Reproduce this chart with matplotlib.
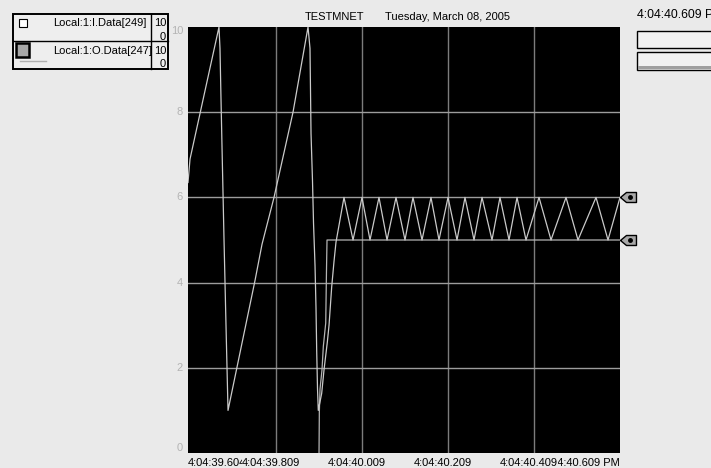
import matplotlib
matplotlib.use("Agg")
import matplotlib.pyplot as plt
import matplotlib.transforms as mtransforms
from matplotlib.patches import Rectangle

plt.rcParams['font.family'] = ['Liberation Sans', 'DejaVu Sans']

# ---------------- data (time in seconds after 4:04:39) ----------------
series_names = ["Local:1:I.Data[249]", "Local:1:O.Data[247]"]
series_ranges = [("10", "0"), ("10", "0")]

i_times = [0.604, 0.6087, 0.6761, 0.6784, 0.6808, 0.6831, 0.6878, 0.6924, 0.6971,
           0.7599, 0.7762, 0.8041, 0.8483, 0.8832, 0.8878, 0.8902, 0.8936, 0.8960,
           0.8995, 0.9018, 0.9034, 0.9053, 0.9071, 0.9150, 0.9204, 0.9281, 0.9321,
           0.9383, 0.9437, 0.9483, 0.9669,
           0.9879, 1.0088, 1.0274, 1.0483, 1.0670, 1.0879, 1.1088, 1.1274, 1.1484,
           1.1693, 1.1879, 1.2089, 1.2298, 1.2484, 1.2694, 1.2880, 1.3112, 1.3298,
           1.3508, 1.3694, 1.3903, 1.4206, 1.4485, 1.4834, 1.5113, 1.5532, 1.5811,
           1.609]
i_values = [6.35, 6.9, 10.0, 9.5, 8.3, 7.2, 5.0, 3.0, 1.0,
            4.05, 4.9, 6.0, 8.0, 10.0, 9.5, 7.5, 6.4, 5.4,
            4.4, 3.4, 2.4, 1.5, 1.0, 1.4, 1.95, 2.6, 3.0,
            3.9, 4.5, 4.95, 6.0,
            5, 6, 5, 6, 5, 6, 5, 6, 5,
            6, 5, 6, 5, 6, 5, 6, 5, 6,
            5, 6, 5, 6, 5, 6, 5, 6, 5,
            6]

o_times = [0.9088, 0.9095, 0.9111, 0.9157, 0.9188, 0.9244, 0.9262, 0.9274, 1.609]
o_values = [0.0, 0.94, 1.5, 1.95, 2.5, 3.05, 4.3, 5.0, 5.0]

x_start, x_end = 0.604, 1.609
grid_times = [0.809, 1.009, 1.209, 1.409]
x_tick_labels = ["4:04:39.604", "4:04:39.809", "4:04:40.009", "4:04:40.209",
                 "4:04:40.409", "4:04:40.609 PM"]
y_ticks = [0, 2, 4, 6, 8, 10]
y_tick_labels = ["0", "2", "4", "6", "8", "10"]

title_name = "TESTMNET"
title_date = "Tuesday, March 08, 2005"
cursor_time = "4:04:40.609 PM"

# ---------------- figure ----------------
W, H = 711, 468
BG = '#eaeaea'
fig = plt.figure(figsize=(W / 100, H / 100), dpi=100)
fig.patch.set_facecolor(BG)


def fx(x):
    return x / W


def fy(y):
    return 1 - y / H


ax = fig.add_axes([fx(188), fy(453), 432 / W, 426 / H])
ax.set_facecolor('black')
for s in ax.spines.values():
    s.set_visible(False)
ax.set_xlim(x_start, x_end)
ax.set_ylim(0, 10)
ax.set_xticks([])
ax.set_yticks([])

for t in grid_times:
    ax.axvline(t, color='#7c7c7c', lw=1.0, zorder=1)
for v in y_ticks[1:-1]:
    ax.axhline(v, color='#9c9c9c', lw=1.0, zorder=1)

ax.plot(i_times, i_values, color='#cacaca', lw=0.9, zorder=3)
ax.plot(o_times, o_values, color='#b4b4b4', lw=0.9, zorder=2)

# tags at right edge
tag = [(0, 0), (6, 5), (16, 5), (16, -5), (6, -5), (0, 0)]
dot_tr = mtransforms.offset_copy(ax.transData, fig=fig, x=10, y=0, units='dots')
for vals in (i_values, o_values):
    ax.plot([x_end], [vals[-1]], marker=tag, ms=23, mfc='#a8a8a8', mec='black',
            mew=1.0, clip_on=False, zorder=5, ls='none')
    ax.plot([x_end], [vals[-1]], marker='o', ms=2.5, color='black',
            transform=dot_tr, clip_on=False, zorder=6, ls='none')

# y tick labels
ytr = mtransforms.blended_transform_factory(ax.transAxes, ax.transData)
ylab_tr = mtransforms.offset_copy(ytr, fig=fig, x=-5, y=0, units='dots')
for v, lab in zip(y_ticks, y_tick_labels):
    va = 'center'
    dy = 0
    if v == 10:
        va, dy = 'top', 1
    elif v == 0:
        va, dy = 'bottom', 0
    ax.text(0, v, lab, transform=mtransforms.offset_copy(ylab_tr, fig=fig, x=0, y=dy, units='dots'),
            ha='right', va=va, fontsize=8, color='#b4b4b4')

# x tick labels (later ones drawn opaque over earlier ones)
xtr = mtransforms.blended_transform_factory(ax.transData, fig.transFigure)
tick_pos = [x_start] + grid_times + [x_end]
ybase = fy(466.5)
order_z = [10, 12, 13, 14, 15, 11]
for i, (t, lab) in enumerate(zip(tick_pos, x_tick_labels)):
    if i == 0:
        ha, off = 'left', 0
    elif i == len(tick_pos) - 1:
        ha, off = 'right', 0
    else:
        ha, off = 'center', -5
    tr = mtransforms.offset_copy(xtr, fig=fig, x=off, y=0, units='dots')
    ax.text(t, ybase, lab, transform=tr, ha=ha, va='baseline', fontsize=8,
            color='black', zorder=order_z[i], clip_on=False,
            bbox=dict(facecolor=BG, edgecolor='none', pad=0.3))

# title
fig.text(fx(305), fy(20.5), title_name, ha='left', va='baseline', fontsize=8)
fig.text(fx(385), fy(20.5), title_date, ha='left', va='baseline', fontsize=8)
fig.text(fx(637), fy(18), cursor_time, ha='left', va='baseline', fontsize=8.8)

# right boxes
fig.add_artist(Rectangle((fx(637), fy(48)), 80 / W, 17 / H, transform=fig.transFigure,
                         facecolor='#f2f2f2', edgecolor='black', lw=1.0))
fig.add_artist(Rectangle((fx(637), fy(70)), 80 / W, 18 / H, transform=fig.transFigure,
                         facecolor='#f2f2f2', edgecolor='black', lw=1.0))
fig.add_artist(Rectangle((fx(638), fy(68.5)), 80 / W, 2.5 / H, transform=fig.transFigure,
                         facecolor='#a0a0a0', edgecolor='none'))

# legend box
fig.add_artist(Rectangle((fx(13), fy(69)), 155 / W, 55 / H, transform=fig.transFigure,
                         facecolor='#eeeeee', edgecolor='black', lw=1.4))
fig.add_artist(plt.Line2D([fx(13), fx(168)], [fy(41), fy(41)], transform=fig.transFigure,
                          color='black', lw=1.0))
fig.add_artist(plt.Line2D([fx(151), fx(151)], [fy(14), fy(69)], transform=fig.transFigure,
                          color='black', lw=1.0))
# row 1 checkbox
fig.add_artist(Rectangle((fx(19), fy(27)), 8 / W, 8 / H, transform=fig.transFigure,
                         facecolor='white', edgecolor='black', lw=0.8))
# row 2 checkbox
fig.add_artist(Rectangle((fx(16), fy(56.5)), 13 / W, 13 / H, transform=fig.transFigure,
                         facecolor='#a8a8a8', edgecolor='black', lw=1.8))
fig.add_artist(plt.Line2D([fx(20), fx(46)], [fy(60.5), fy(60.5)], transform=fig.transFigure,
                          color='#b0b0b0', lw=1.0))

row_base = [26.5, 53.5]
for k, (name, (hi, lo)) in enumerate(zip(series_names, series_ranges)):
    fig.text(fx(53), fy(row_base[k]), name, ha='left', va='baseline', fontsize=8)
    fig.text(fx(166), fy(row_base[k]), hi, ha='right', va='baseline', fontsize=8)
    fig.text(fx(165.5), fy(row_base[k] + 13.5), lo, ha='right', va='baseline', fontsize=8)

fig.savefig('out.png', dpi=100, facecolor=BG)
